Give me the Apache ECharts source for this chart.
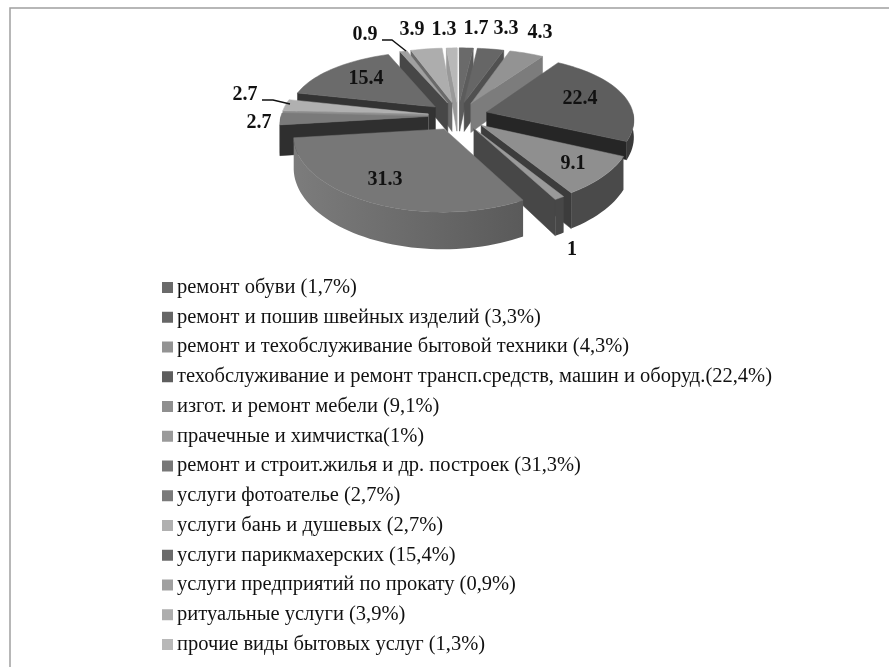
<!DOCTYPE html>
<html>
<head>
<meta charset="utf-8">
<script src="https://cdn.jsdelivr.net/npm/echarts@6/dist/echarts.min.js"></script>
<style>
  html, body { margin: 0; padding: 0; background: #fff; }
  #chart { width: 889px; height: 667px; }
</style>
</head>
<body>
<div id="chart"></div>
<script>
const categories = [
  'ремонт обуви (1,7%)',
  'ремонт и пошив швейных изделий (3,3%)',
  'ремонт и техобслуживание бытовой техники (4,3%)',
  'техобслуживание и ремонт трансп.средств, машин и оборуд.(22,4%)',
  'изгот. и ремонт мебели (9,1%)',
  'прачечные и химчистка(1%)',
  'ремонт и строит.жилья и др. построек (31,3%)',
  'услуги фотоателье (2,7%)',
  'услуги бань и душевых (2,7%)',
  'услуги парикмахерских (15,4%)',
  'услуги предприятий по прокату (0,9%)',
  'ритуальные услуги (3,9%)',
  'прочие виды бытовых услуг (1,3%)'
]
const shares = [1.7, 3.3, 4.3, 22.4, 9.1, 1, 31.3, 2.7, 2.7, 15.4, 0.9, 3.9, 1.3]
const topColors = ['#6a6a6a', '#666666', '#939393', '#5e5e5e', '#8f8f8f', '#9a9a9a', '#777777', '#7a7a7a', '#b0b0b0', '#6b6b6b', '#a0a0a0', '#adadad', '#b8b8b8']
const faceColors = ['#5c5c5c', '#505050', '#7c7c7c', '#262626', '#3c3c3c', '#474747', '#555555', '#2f2f2f', '#8c8c8c', '#333333', '#474747', '#6a6a6a', '#999999']
const wallColors = ['#555555', '#505050', '#707070', '#3a3a3a', '#4a4a4a', '#474747', '#5a5a5a', '#303030', '#777777', '#444444', '#555555', '#777777', '#888888']
// the 22.4 slice sits behind 9.1 in the reference, only a thin band of its side shows
const sliceDepth = [30, 30, 30, 17, 30, 30, 30, 30, 30, 30, 30, 30, 30]
// label anchors in px, same order as shares
const labelX = [476, 506, 540, 580, 573, 572, 385, 259, 245, 366, 365, 412, 444]
const labelY = [29, 29, 33, 99, 164, 250, 180, 123, 95, 79, 35, 30, 30]

// pie geometry
const cx = 458, cy = 116, R = 147, squash = 0.47, perspX = 0.1, perspY = 0.15, perspZ = 0.2, gap = 30

const total = shares.reduce((a, b) => a + b, 0)

const project = (x, y, z) => {
  const px = 1 + perspX * y / R
  const py = 1 + perspY * y / R
  const pz = 1 + perspZ * y / R
  return [cx + x * px, cy + y * squash * py + z * pz]
}

const sliceRange = (idx) => {
  let start = 0
  for (let i = 0; i < idx; i++) start += shares[i]
  return [start / total * Math.PI * 2, (start + shares[idx]) / total * Math.PI * 2]
}

const area = (pts) => {
  let s = 0
  pts.forEach((p, i) => {
    const q = pts[(i + 1) % pts.length]
    s += p[0] * q[1] - q[0] * p[1]
  })
  return s
}

const renderSlice = (idx) => (params, api) => {
  const [a0, a1] = sliceRange(idx)
  const depth = sliceDepth[idx]
  const mid = (a0 + a1) / 2
  const ox = Math.sin(mid) * gap
  const oy = -Math.cos(mid) * gap
  const rim = (a, z) => project(ox + Math.sin(a) * R, oy - Math.cos(a) * R, z)
  const tip = (z) => project(ox, oy, z)

  const steps = Math.max(4, Math.ceil((a1 - a0) / 0.04))
  const arc = []
  for (let i = 0; i <= steps; i++) arc.push(a0 + (a1 - a0) * i / steps)

  const children = []
  const poly = (points, fill) => children.push({
    type: 'polygon',
    shape: { points },
    style: { fill, stroke: fill, lineWidth: 0.5 }
  })

  const faceA = [tip(0), rim(a0, 0), rim(a0, depth), tip(depth)]
  const faceB = [tip(0), rim(a1, 0), rim(a1, depth), tip(depth)]
  if (area(faceA) < 0) poly(faceA, faceColors[idx])
  if (area(faceB) > 0) poly(faceB, faceColors[idx])

  // outer wall, only the part facing the viewer
  const front = arc.filter((a) => Math.cos(a) < 0.02)
  if (front.length > 1) {
    const upper = front.map((a) => rim(a, 0))
    const lower = front.map((a) => rim(a, depth)).reverse()
    children.push({
      type: 'polygon',
      shape: { points: upper.concat(lower) },
      style: {
        fill: new echarts.graphic.LinearGradient(1, 0, 0, 0, [
          { offset: 0, color: wallColors[idx] },
          { offset: 1, color: idx === 6 ? '#7c7c7c' : wallColors[idx] }
        ])
      }
    })
  }

  poly([tip(0)].concat(arc.map((a) => rim(a, 0))), api.visual('color'))

  return { type: 'group', children }
}

// painter's order: far slices first
const drawOrder = shares.map((v, i) => {
  const [a0, a1] = sliceRange(i)
  return { i, d: -Math.cos((a0 + a1) / 2) }
}).sort((a, b) => a.d - b.d)

const seriesList = categories.map((name, i) => ({
  type: 'custom',
  name,
  coordinateSystem: 'none',
  silent: true,
  z: 2 + drawOrder.findIndex((o) => o.i === i),
  itemStyle: { color: topColors[i] },
  renderItem: renderSlice(i),
  data: [[shares[i]]]
}))

const labelText = shares.map((v, i) => ({
  type: 'text',
  x: labelX[i],
  y: labelY[i],
  z: 100,
  style: {
    text: String(v),
    fill: '#111',
    font: 'bold 20px "Liberation Serif"',
    align: 'center',
    verticalAlign: 'middle'
  }
}))

const lineStyle = { stroke: '#111', lineWidth: 1.4, fill: null }
const frameStyle = { stroke: '#a0a0a0', lineWidth: 1.5, fill: null }

const chart = echarts.init(document.getElementById('chart'), null, { renderer: 'canvas' })
chart.setOption({
  animation: false,
  backgroundColor: '#fff',
  legend: {
    orient: 'vertical',
    left: 157,
    top: 272,
    itemWidth: 11,
    itemHeight: 11,
    itemGap: 8.75,
    icon: 'rect',
    data: categories,
    selectedMode: false,
    textStyle: {
      fontFamily: '"Liberation Serif"',
      fontSize: 20.5,
      color: '#111',
      padding: [0, 0, 0, -1]
    }
  },
  series: seriesList,
  graphic: [
    { type: 'polyline', z: 100, shape: { points: [[10, 667], [10, 8], [889, 8]] }, style: frameStyle },
    { type: 'polyline', z: 100, shape: { points: [[382, 40], [392, 40], [406, 51]] }, style: lineStyle },
    { type: 'polyline', z: 100, shape: { points: [[262, 100], [273, 100], [290, 104]] }, style: lineStyle }
  ].concat(labelText)
})

window.addEventListener('resize', () => chart.resize())
</script>
</body>
</html>
